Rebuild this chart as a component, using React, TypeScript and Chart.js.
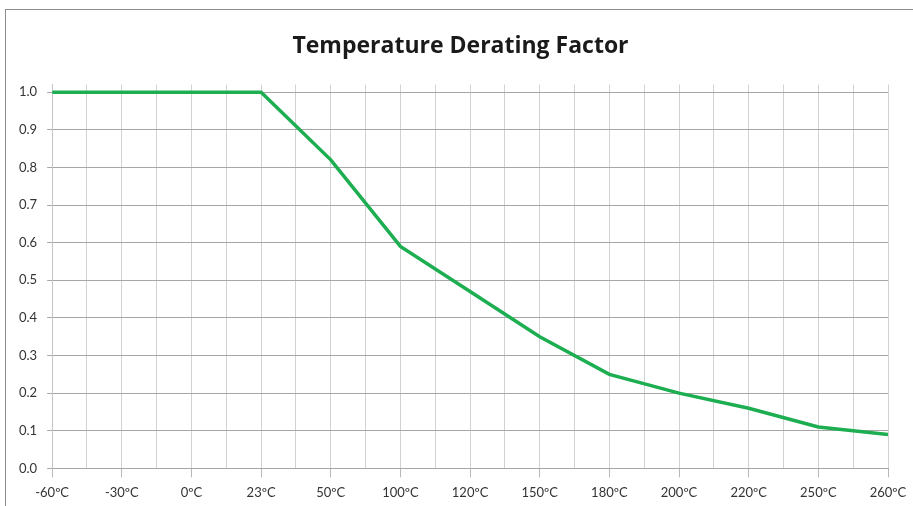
import React, { useEffect, useRef } from "react";
import { Chart, registerables } from "chart.js";

Chart.register(...registerables);

const categories = ["-60ºC", "-30ºC", "0ºC", "23ºC", "50ºC", "100ºC", "120ºC", "150ºC", "180ºC", "200ºC", "220ºC", "250ºC", "260ºC"];
const factorValues = [1.0, 1.0, 1.0, 1.0, 0.82, 0.59, 0.47, 0.35, 0.25, 0.2, 0.16, 0.11, 0.09];
const yTickValues = [0, 0.1, 0.2, 0.3, 0.4, 0.5, 0.6, 0.7, 0.8, 0.9, 1.0];

export default function App() {
  const ref = useRef<HTMLCanvasElement | null>(null);

  useEffect(() => {
    if (!ref.current) return;
    const chart = new Chart(ref.current, {
      type: "line",
      data: {
        datasets: [
          {
            label: "Derating factor",
            data: factorValues.map((v, i) => ({ x: i, y: v })),
            borderColor: "#1DAE51",
            borderWidth: 3.5,
            pointRadius: 0,
            tension: 0,
            fill: false,
          },
        ],
      },
      options: {
        animation: false,
        responsive: true,
        maintainAspectRatio: false,
        layout: { padding: { left: 9, right: 1, top: 22, bottom: -3 } },
        plugins: {
          legend: { display: false },
          tooltip: { enabled: false },
          title: {
            display: true,
            text: "Temperature Derating Factor",
            color: "#1a1a1a",
            font: { family: "Open Sans", size: 23, weight: "bold" },
            padding: { top: 11, bottom: 24 },
          },
        },
        scales: {
          x: {
            type: "linear",
            min: 0,
            max: categories.length - 1,
            afterFit: (scale: any) => {
              scale.paddingRight = Math.min(scale.paddingRight, 25);
            },
            ticks: {
              stepSize: 0.5,
              autoSkip: false,
              maxRotation: 0,
              color: "#333",
              font: { family: "Lato", size: 13 },
              padding: 8,
              callback: (v: any) => (Number.isInteger(v) ? categories[v] : ""),
            },
            grid: {
              color: "#d2d2d2",
              lineWidth: 1,
              tickLength: 9,
              tickColor: (ctx: any) => (Number.isInteger(ctx.tick?.value) ? "#b8b8b8" : "rgba(0,0,0,0)"),
            },
            border: { display: true, color: "#a6a6a6" },
          },
          y: {
            min: 0,
            max: 1.02,
            afterBuildTicks: (scale: any) => {
              scale.ticks = yTickValues.map((value) => ({ value }));
            },
            ticks: {
              color: "#333",
              font: { family: "Lato", size: 13 },
              padding: 10,
              callback: (v: any) => Number(v).toFixed(1),
            },
            grid: { color: "#a6a6a6", lineWidth: 1, tickLength: 5 },
            border: { display: true, color: "#c4c4c4" },
          },
        },
      },
    });
    return () => chart.destroy();
  }, []);

  return (
    <div style={{ position: "fixed", left: 0, top: 0, width: 913, height: 506, background: "#fff" }}>
      <div
        style={{
          position: "absolute",
          left: 5,
          top: 9,
          width: 1000,
          height: 600,
          borderLeft: "1.5px solid #8c8c8c",
          borderTop: "1.5px solid #8c8c8c",
          boxSizing: "border-box",
        }}
      />
      <div style={{ position: "absolute", left: 0, top: 0, width: 913, height: 506 }}>
        <canvas ref={ref} />
      </div>
    </div>
  );
}
